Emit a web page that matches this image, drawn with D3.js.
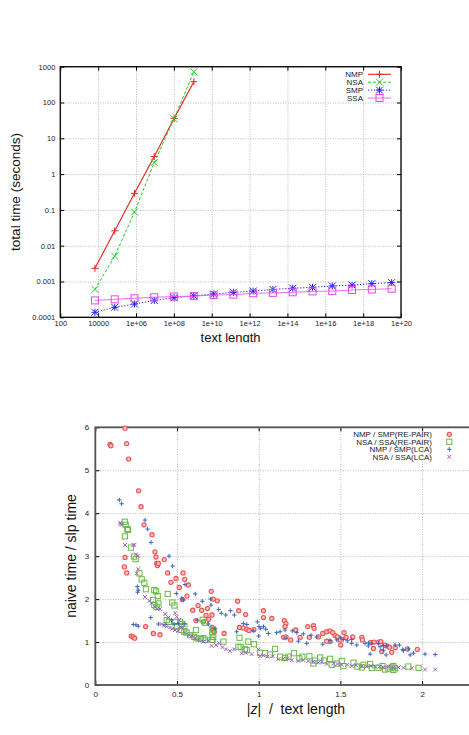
<!DOCTYPE html>
<html>
<head>
<meta charset="utf-8">
<script src="https://cdn.jsdelivr.net/npm/d3@7"></script>
<style>
  body { margin: 0; background: #fff; }
  svg { display: block; font-family: "Liberation Sans", Arial, sans-serif; }
</style>
</head>
<body>
<div id="chart"></div>
<script>
// ---- top chart data (text length = Fibonacci string lengths) ----
const textLen = [6765, 75025, 832040, 9227465, 102334155, 1134903170, 12586269025,
  139583862445, 1548008755920, 17167680177565, 190392490709135, 2111485077978050,
  23416728348467685, 259695496911122585, 2880067194370816120, 31940434634990099905];
const nmpTime = [0.00234, 0.026, 0.29, 3.1, 36, 380];
const nsaTime = [0.0006, 0.0051, 0.087, 2.1, 35, 720];
const smpTime = [0.000138, 0.00019, 0.000235, 0.000296, 0.000353, 0.0004, 0.000447, 0.0005,
  0.00054, 0.0006, 0.00065, 0.00069, 0.00075, 0.00079, 0.00087, 0.00093];
const ssaTime = [0.000296, 0.000318, 0.00034, 0.000363, 0.00038, 0.00039, 0.00042, 0.00043,
  0.00047, 0.00048, 0.0005, 0.00053, 0.00054, 0.00058, 0.0006, 0.00063];
const topXTicks = [100, 1e4, 1e6, 1e8, 1e10, 1e12, 1e14, 1e16, 1e18, 1e20];
const topXLabels = ['100', '10000', '1e+06', '1e+08', '1e+10', '1e+12', '1e+14', '1e+16', '1e+18', '1e+20'];
const topYTicks = [0.0001, 0.001, 0.01, 0.1, 1, 10, 100, 1000];
const topYLabels = ['0.0001', '0.001', '0.01', '0.1', '1', '10', '100', '1000'];
const topSeries = ['NMP', 'NSA', 'SMP', 'SSA'];

// ---- bottom chart data: [|z|/text length, naive time / slp time] ----
const nmpSmpRepair = [[0.182,5.98],[0.09,5.6],[0.096,5.57],[0.192,5.62],[0.204,5.26],[0.265,4.52],
  [0.28,4.15],[0.298,3.73],[0.347,3.5],[0.365,3.1],[0.371,2.98],[0.376,2.83],[0.38,2.78],[0.386,2.83],
  [0.182,2.97],[0.178,2.75],[0.192,2.61],[0.422,2.92],[0.443,2.61],[0.463,2.39],[0.494,2.48],[0.537,2.61],
  [0.547,2.46],[0.514,2.27],[0.569,2.33],[0.561,2.07],[0.533,1.99],[0.596,1.74],[0.629,1.85],[0.651,1.74],
  [0.686,1.78],[0.71,2.18],[0.722,2.0],[0.747,1.96],[0.678,1.62],[0.714,1.63],[0.616,1.5],[0.661,1.47],
  [0.714,1.34],[0.722,1.28],[0.729,1.24],[0.694,1.53],[0.308,1.36],[0.355,1.2],[0.396,1.17],[0.22,1.14],
  [0.231,1.12],[0.241,1.09],[0.871,1.95],[0.878,1.73],[0.92,1.64],[0.882,1.34],[0.906,1.33],[0.927,1.3],
  [0.941,1.27],[0.971,1.29],[0.788,1.2],[1.029,1.73],[1.029,1.57],[1.08,1.55],[1.157,1.5],[1.167,1.43],
  [1.161,1.36],[1.227,1.28],[1.153,1.11],[1.167,1.12],[1.196,1.05],[1.253,1.11],[1.3,1.36],[1.335,1.38],
  [1.339,1.32],[1.31,1.11],[1.365,1.12],[1.392,1.2],[1.416,1.24],[1.437,1.26],[1.453,1.22],[1.467,1.15],
  [1.482,1.12],[1.498,1.05],[1.522,1.22],[1.535,1.11],[1.502,0.93],[1.576,1.12],[1.437,1.01],[1.631,1.11],
  [1.635,1.05],[1.688,0.99],[1.706,1.0],[1.733,1.0],[1.747,1.01],[1.753,0.78],[1.784,0.91],[1.8,0.88],
  [1.814,0.76],[1.835,0.87],[1.91,0.84],[1.971,0.83],[1.702,0.85],[1.77,0.93],[1.416,1.02]];
const nsaSsaRepair = [[0.18,3.8],[0.186,3.73],[0.196,3.63],[0.2,3.61],[0.181,3.46],[0.218,3.2],
  [0.237,2.99],[0.247,2.93],[0.27,2.6],[0.284,2.46],[0.3,2.38],[0.31,2.23],[0.361,2.21],[0.372,2.18],
  [0.382,2.07],[0.443,2.12],[0.353,1.98],[0.361,1.86],[0.386,1.9],[0.375,1.82],[0.471,1.92],[0.484,1.85],
  [0.437,1.51],[0.451,1.47],[0.488,1.47],[0.518,1.47],[0.533,1.42],[0.545,1.37],[0.5,1.37],[0.525,1.28],
  [0.545,1.24],[0.559,1.22],[0.58,1.16],[0.606,1.12],[0.62,1.09],[0.647,1.07],[0.671,1.05],[0.712,1.05],
  [0.722,1.12],[0.657,1.52],[0.671,1.45],[0.716,1.22],[0.616,1.28],[0.661,1.09],[0.718,1.05],[0.722,1.29],
  [0.784,1.01],[0.882,1.1],[0.876,0.89],[0.89,0.88],[0.916,0.83],[0.927,0.81],[0.937,1.01],[0.971,0.95],
  [1.008,0.75],[1.039,0.74],[1.069,0.71],[1.1,0.84],[1.131,0.66],[1.161,0.63],[1.182,0.66],[1.216,0.74],
  [1.249,0.62],[1.267,0.66],[1.31,0.67],[1.335,0.5],[1.345,0.57],[1.376,0.64],[1.4,0.57],[1.437,0.61],
  [1.447,0.47],[1.478,0.5],[1.508,0.56],[1.518,0.44],[1.58,0.52],[1.604,0.43],[1.631,0.41],[1.641,0.47],
  [1.682,0.49],[1.692,0.4],[1.733,0.4],[1.757,0.44],[1.773,0.36],[1.794,0.38],[1.814,0.41],[1.824,0.35],
  [1.835,0.39],[1.916,0.43],[1.978,0.4],[1.824,0.44]];
const nmpSmpLca = [[0.147,4.31],[0.161,4.22],[0.304,3.84],[0.32,3.63],[0.341,3.32],[0.451,3.0],
  [0.473,2.77],[0.549,2.34],[0.257,2.29],[0.263,2.21],[0.259,2.16],[0.496,2.13],[0.529,2.02],[0.539,1.98],
  [0.612,2.12],[0.655,1.95],[0.706,2.0],[0.708,1.86],[0.755,1.76],[0.771,1.67],[0.798,1.63],[0.827,1.73],
  [0.851,1.63],[0.339,1.57],[0.233,1.41],[0.249,1.4],[0.263,1.37],[0.386,1.42],[0.427,1.41],[0.467,1.51],
  [0.482,1.42],[0.508,1.43],[0.543,1.42],[0.624,1.51],[0.692,1.42],[0.733,1.31],[0.906,1.43],[0.927,1.41],
  [0.865,1.24],[0.967,1.26],[0.992,1.47],[1.002,1.36],[1.012,1.32],[1.029,1.36],[1.0,1.14],[1.043,1.3],
  [1.059,1.2],[1.11,1.22],[1.131,1.24],[1.161,1.28],[1.167,1.09],[1.206,1.26],[1.233,1.22],[1.243,1.02],
  [1.294,0.97],[1.273,1.19],[1.32,1.16],[1.355,1.12],[1.392,0.95],[1.437,1.03],[1.478,1.05],[1.502,1.1],
  [1.518,1.06],[1.543,1.03],[1.569,1.06],[1.6,0.93],[1.569,0.97],[1.651,0.97],[1.671,0.98],[1.671,0.91],
  [1.692,0.97],[1.733,0.97],[1.743,0.89],[1.763,0.92],[1.784,0.91],[1.835,0.93],[1.861,0.93],[1.882,0.83],
  [1.916,0.84],[1.927,0.7],[1.947,0.74],[2.018,0.72],[2.08,0.71],[1.682,0.72],[1.78,0.7],[1.763,0.81],
  [1.886,0.8]];
const nsaSsaLca = [[0.155,3.75],[0.161,3.73],[0.153,3.78],[0.239,3.26],[0.182,3.26],[0.233,3.26],
  [0.249,3.04],[0.261,3.01],[0.263,2.7],[0.253,2.6],[0.304,2.05],[0.331,1.96],[0.345,1.91],[0.365,1.82],
  [0.38,1.77],[0.396,1.77],[0.427,1.65],[0.447,1.57],[0.488,1.67],[0.498,1.59],[0.514,1.51],[0.406,1.42],
  [0.42,1.38],[0.437,1.36],[0.457,1.34],[0.471,1.31],[0.488,1.28],[0.508,1.26],[0.529,1.34],[0.549,1.22],
  [0.576,1.16],[0.59,1.14],[0.61,1.09],[0.631,1.05],[0.661,1.01],[0.692,1.03],[0.712,0.91],[0.739,0.93],
  [0.759,0.97],[0.778,0.88],[0.8,0.83],[0.824,0.79],[0.849,0.83],[0.896,0.74],[0.922,0.75],[0.957,0.72],
  [0.998,0.83],[1.008,0.67],[1.029,0.69],[1.053,0.66],[1.086,0.67],[1.12,0.6],[1.151,0.61],[1.176,0.62],
  [1.202,0.58],[1.243,0.56],[1.273,0.58],[1.304,0.56],[1.335,0.54],[1.365,0.52],[1.386,0.54],[1.416,0.49],
  [1.457,0.5],[1.482,0.49],[1.508,0.47],[1.543,0.47],[1.569,0.44],[1.596,0.46],[1.631,0.44],[1.661,0.43],
  [1.686,0.44],[1.712,0.43],[1.739,0.43],[1.763,0.41],[1.794,0.43],[1.824,0.4],[1.855,0.41],[1.886,0.4],
  [1.937,0.39],[2.018,0.36],[2.08,0.36]];
const botXTicks = [0, 0.5, 1, 1.5, 2, 2.5];
const botYTicks = [0, 1, 2, 3, 4, 5, 6];
const botSeries = ['NMP / SMP(RE-PAIR)', 'NSA / SSA(RE-PAIR)', 'NMP / SMP(LCA)', 'NSA / SSA(LCA)'];

const width = 469, height = 735;
const svg = d3.select('#chart').append('svg')
  .attr('width', width)
  .attr('height', height);

// marker drawing, gnuplot-ish point types
function marker(g, type, x, y, s, color) {
  if (type === 'plus' || type === 'star') {
    g.append('path').attr('d', `M${x-s},${y}H${x+s}M${x},${y-s}V${y+s}`)
      .attr('stroke', color).attr('stroke-width', 1).attr('fill', 'none');
  }
  if (type === 'cross' || type === 'star') {
    g.append('path').attr('d', `M${x-s},${y-s}L${x+s},${y+s}M${x-s},${y+s}L${x+s},${y-s}`)
      .attr('stroke', color).attr('stroke-width', 1).attr('fill', 'none');
  }
  if (type === 'square') {
    g.append('rect').attr('x', x-s).attr('y', y-s).attr('width', 2*s).attr('height', 2*s)
      .attr('stroke', color).attr('stroke-width', 1).attr('fill', 'none');
  }
  if (type === 'circle') {
    g.append('circle').attr('cx', x).attr('cy', y).attr('r', s)
      .attr('stroke', color).attr('stroke-width', 1.1).attr('fill', '#f8c0c0');
  }
}

//============ top chart ============
svg.append('clipPath').attr('id', 'topclip')
  .append('rect').attr('x', 0).attr('y', 0).attr('width', width).attr('height', 342.5);
const topG = svg.append('g').attr('clip-path', 'url(#topclip)');

const tx = d3.scaleLog().domain([100, 1e20]).range([60.3, 401]);
const ty = d3.scaleLog().domain([1e-4, 1000]).range([317.3, 66.7]);
const tW = 401 - 60.3, tH = 317.3 - 66.7;

// grid
topG.append('g')
  .attr('transform', 'translate(0,317.3)')
  .call(d3.axisBottom(tx).tickValues(topXTicks).tickSize(-tH).tickFormat(''))
  .call(g => g.select('.domain').remove())
  .selectAll('line').attr('stroke', '#999').attr('stroke-width', 0.7).attr('stroke-dasharray', '1,1.5');
topG.append('g')
  .attr('transform', 'translate(60.3,0)')
  .call(d3.axisLeft(ty).tickValues(topYTicks).tickSize(-tW).tickFormat(''))
  .call(g => g.select('.domain').remove())
  .selectAll('line').attr('stroke', '#999').attr('stroke-width', 0.7).attr('stroke-dasharray', '1,1.5');

// axes with inward ticks
topG.append('g')
  .attr('transform', 'translate(0,317.3)')
  .call(d3.axisBottom(tx).tickValues(topXTicks).tickSize(-4).tickPadding(3.5)
    .tickFormat((d, i) => topXLabels[i]));
topG.append('g')
  .attr('transform', 'translate(60.3,0)')
  .call(d3.axisLeft(ty).tickValues(topYTicks).tickSize(-4).tickPadding(5)
    .tickFormat((d, i) => topYLabels[i]));
topG.append('g')
  .attr('transform', 'translate(0,66.7)')
  .call(d3.axisTop(tx).tickValues(topXTicks).tickSize(-4).tickFormat(''));
topG.append('g')
  .attr('transform', 'translate(401,0)')
  .call(d3.axisRight(ty).tickValues(topYTicks).tickSize(-4).tickFormat(''));
topG.selectAll('.tick text').style('font-size', '7.5px').attr('fill', '#222')
  .style('font-family', '"Liberation Sans", Arial, sans-serif');
topG.selectAll('.domain').remove();
topG.append('rect').attr('x', 60.3).attr('y', 66.7).attr('width', tW).attr('height', tH)
  .attr('fill', 'none').attr('stroke', '#111').attr('stroke-width', 1.4);

const topStyle = [
  { data: nmpTime, color: '#e8201c', dash: null, w: 1.1, m: 'plus' },
  { data: nsaTime, color: '#22cc22', dash: '3,2', w: 1, m: 'cross' },
  { data: smpTime, color: '#2222ee', dash: '1.2,1.8', w: 1, m: 'star' },
  { data: ssaTime, color: '#ee44ee', dash: null, w: 0.8, m: 'square' }
];
const tline = d3.line().x(d => tx(d[0])).y(d => ty(d[1]));
topStyle.forEach(s => {
  const pts = s.data.map((v, i) => [textLen[i], v]);
  topG.append('path').datum(pts).attr('d', tline)
    .attr('fill', 'none').attr('stroke', s.color).attr('stroke-width', s.w)
    .attr('stroke-dasharray', s.dash);
  const mg = topG.append('g');
  pts.forEach(p => marker(mg, s.m, tx(p[0]), ty(p[1]), 3.5, s.color));
});

// legend
topSeries.forEach((name, i) => {
  const y = 74.3 + i * 7.9;
  const s = topStyle[i];
  topG.append('text').attr('x', 363).attr('y', y + 3).attr('text-anchor', 'end')
    .style('font-size', '8px').attr('fill', '#222').text(name);
  topG.append('line').attr('x1', 368).attr('x2', 391).attr('y1', y).attr('y2', y)
    .attr('stroke', s.color).attr('stroke-width', s.w).attr('stroke-dasharray', s.dash);
  marker(topG.append('g'), s.m, 379.5, y, 3.5, s.color);
});

topG.append('text').attr('x', 230.6).attr('y', 342)
  .attr('text-anchor', 'middle').style('font-size', '13px').attr('fill', '#111')
  .text('text length');
topG.append('text').attr('transform', 'translate(19.5,192) rotate(-90)')
  .attr('text-anchor', 'middle').style('font-size', '13.5px').attr('fill', '#111')
  .text('total time (seconds)');

//============ bottom chart ============
const bot = svg.append('g');
const bx = d3.scaleLinear().domain([0, 2.5]).range([95.3, 95.3 + 2.5 * 163.4]);
const by = d3.scaleLinear().domain([0, 6]).range([685, 427.3]);
const bW = bx(2.5) - bx(0), bH = 685 - 427.3;

bot.append('g')
  .attr('transform', 'translate(0,685)')
  .call(d3.axisBottom(bx).tickValues(botXTicks).tickSize(-bH).tickFormat(''))
  .call(g => g.select('.domain').remove())
  .selectAll('line').attr('stroke', '#999').attr('stroke-width', 0.7).attr('stroke-dasharray', '1,1.5');
bot.append('g')
  .attr('transform', 'translate(95.3,0)')
  .call(d3.axisLeft(by).tickValues(botYTicks).tickSize(-bW).tickFormat(''))
  .call(g => g.select('.domain').remove())
  .selectAll('line').attr('stroke', '#999').attr('stroke-width', 0.7).attr('stroke-dasharray', '1,1.5');

bot.append('g')
  .attr('transform', 'translate(0,685)')
  .call(d3.axisBottom(bx).tickValues(botXTicks.slice(0, 5)).tickSize(-4).tickPadding(6)
    .tickFormat(d3.format('')));
bot.append('g')
  .attr('transform', 'translate(95.3,0)')
  .call(d3.axisLeft(by).tickValues(botYTicks).tickSize(-4).tickPadding(6)
    .tickFormat(d3.format('')));
bot.append('g')
  .attr('transform', 'translate(0,427.3)')
  .call(d3.axisTop(bx).tickValues(botXTicks).tickSize(-4).tickFormat(''));
bot.selectAll('.tick text').style('font-size', '8px').attr('fill', '#222')
  .style('font-family', '"Liberation Sans", Arial, sans-serif');
bot.selectAll('.domain').remove();
bot.append('rect').attr('x', 95.3).attr('y', 427.3).attr('width', bW).attr('height', bH)
  .attr('fill', 'none').attr('stroke', '#555').attr('stroke-width', 1.8);

const botStyle = [
  { data: nmpSmpRepair, color: '#f05050', m: 'circle', s: 2.1 },
  { data: nsaSsaRepair, color: '#66bb44', m: 'square', s: 2.6 },
  { data: nmpSmpLca, color: '#3a66bb', m: 'plus', s: 2.2 },
  { data: nsaSsaLca, color: '#a060c0', m: 'cross', s: 1.9 }
];
botStyle.forEach(st => {
  const mg = bot.append('g');
  st.data.forEach(p => marker(mg, st.m, bx(p[0]), by(p[1]), st.s, st.color));
});

botSeries.forEach((name, i) => {
  const y = 434.3 + i * 7.5;
  const st = botStyle[i];
  bot.append('text').attr('x', 432).attr('y', y + 3).attr('text-anchor', 'end')
    .style('font-size', '8px').attr('fill', '#222').text(name);
  marker(bot.append('g'), st.m, 449.3, y, st.s, st.color);
});

const xl = bot.append('text').attr('x', 296).attr('y', 714)
  .attr('text-anchor', 'middle').style('font-size', '14px').attr('fill', '#111')
  .attr('xml:space', 'preserve');
xl.append('tspan').text('|');
xl.append('tspan').style('font-style', 'italic').text('z');
xl.append('tspan').text('|  /  text length');
bot.append('text').attr('transform', 'translate(76,556) rotate(-90)')
  .attr('text-anchor', 'middle').style('font-size', '14px').attr('fill', '#111')
  .text('naive time / slp time');
</script>
</body>
</html>
